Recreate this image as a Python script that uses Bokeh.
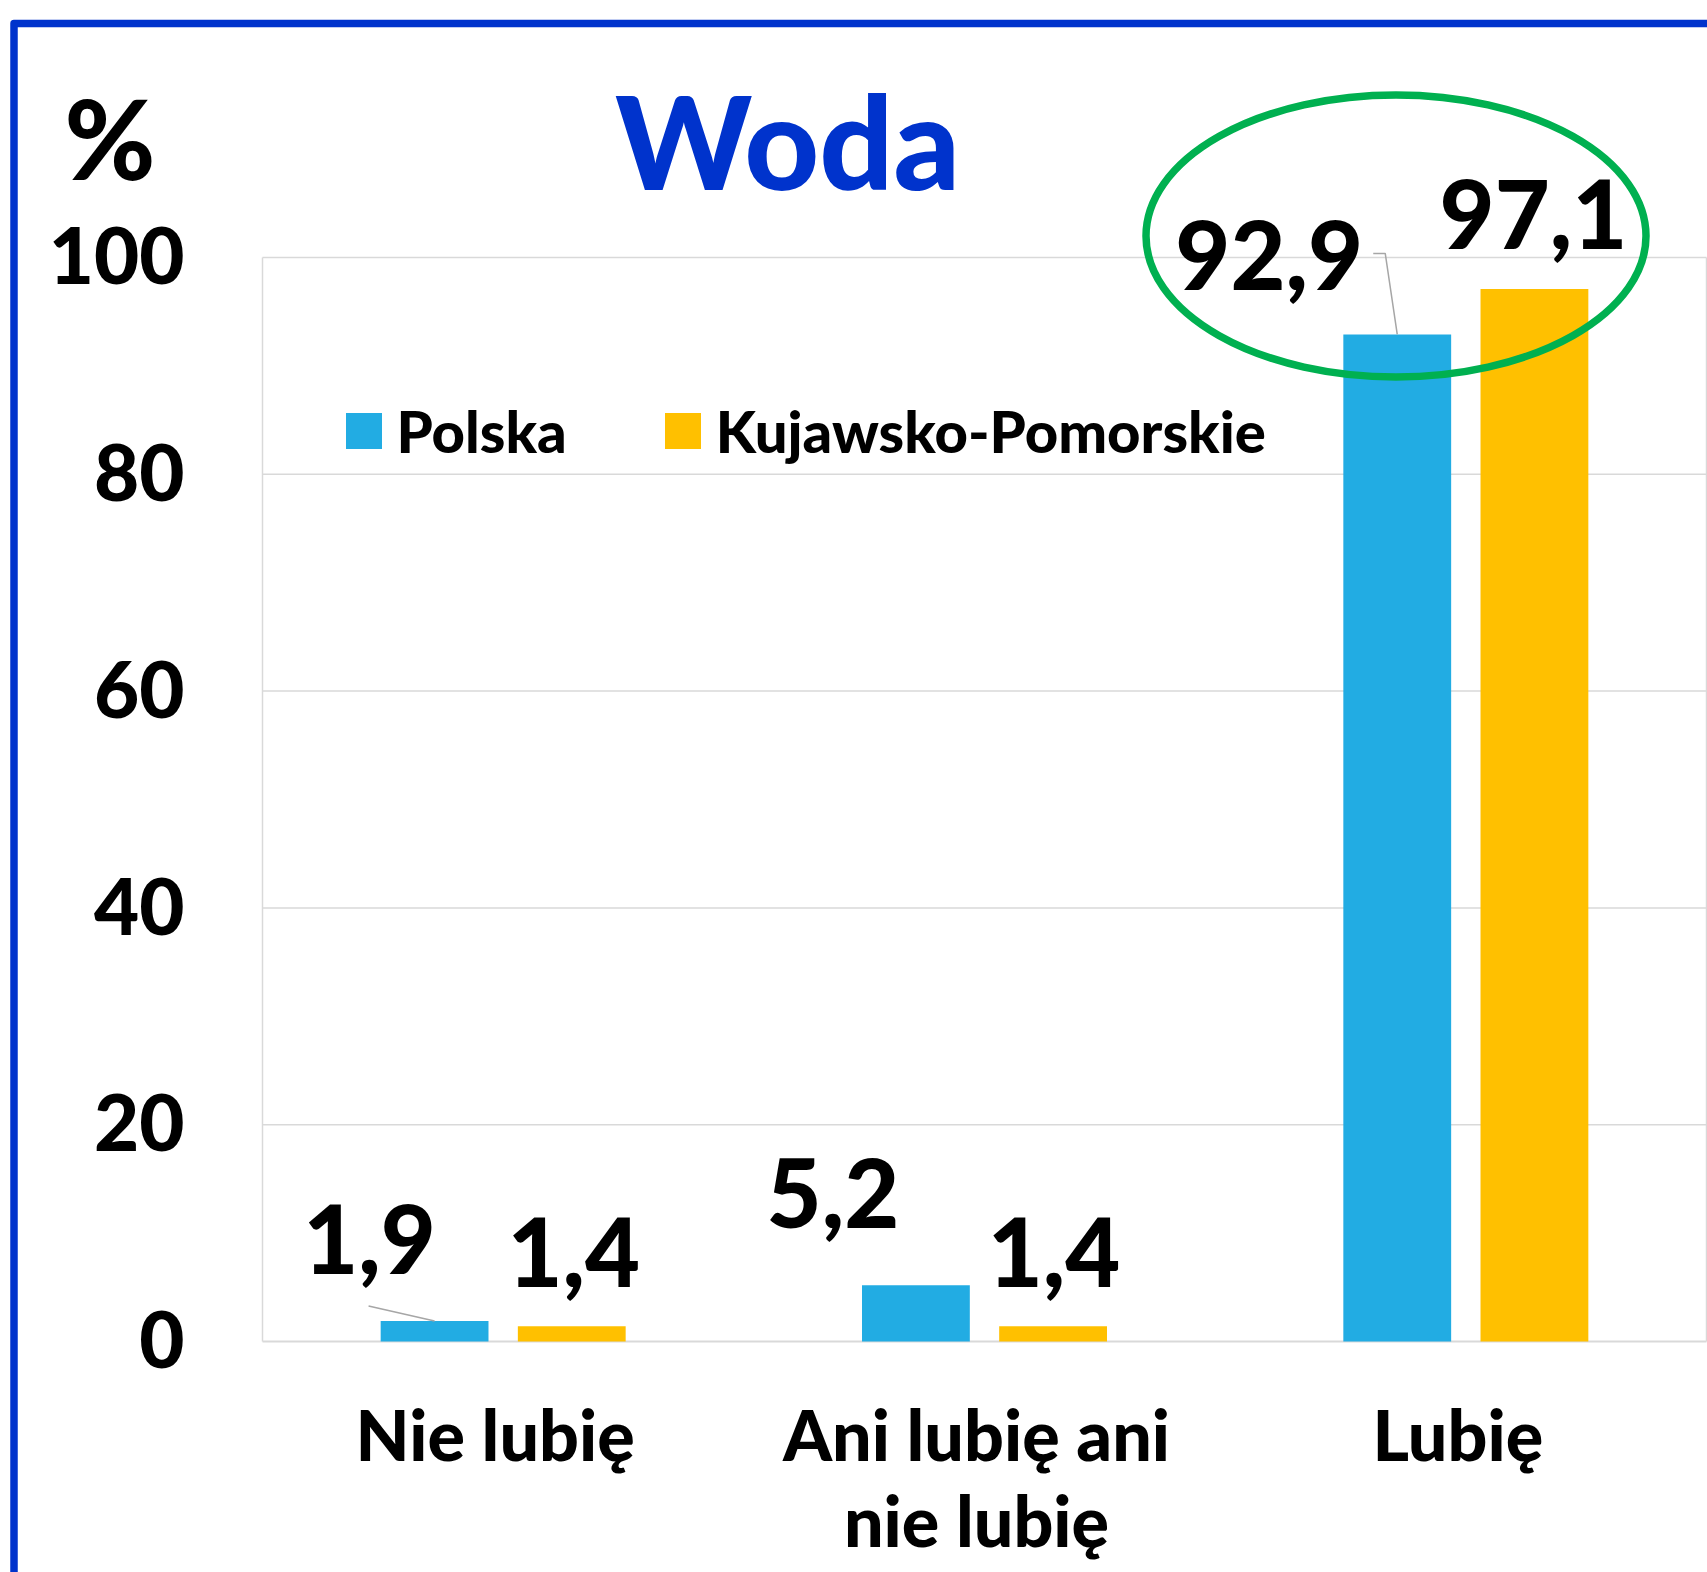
from bokeh.plotting import figure
from bokeh.models import Range1d, Legend, LegendItem
from bokeh.core.properties import value
from bokeh.embed import file_html
from bokeh.resources import INLINE

# ---------------- data ----------------
categories = ["Nie lubię", "Ani lubię ani\nnie lubię", "Lubię"]
series = ["Polska", "Kujawsko-Pomorskie"]
polska = [1.9, 5.2, 92.9]
kujawsko = [1.4, 1.4, 97.1]
polska_text = ["1,9", "5,2", "92,9"]
kujawsko_text = ["1,4", "1,4", "97,1"]
y_ticks = [0, 20, 40, 60, 80, 100]
y_tick_text = ["0", "20", "40", "60", "80", "100"]
title_text = "Woda"
unit_text = "%"

# ---------------- style ----------------
BLUE = "#22ACE3"
GOLD = "#FFC000"
FRAME = "#0033CC"
GREEN = "#00B050"
GRID = "#D9D9D9"
LEADER = "#A6A6A6"
FONT = "Lato Heavy, Lato"
LIFT = 0.37   # em: lift applied to alphabetic anchors so the baseline lands where wanted

W, H = 1707, 1572
AREA_L, AREA_R, AREA_T, AREA_B = 262, 1706, 257, 1341   # plot area in canvas px
n = len(categories)
y_max = y_ticks[-1]
sx = (AREA_R - AREA_L) / n
sy = (AREA_B - AREA_T) / y_max


def px_x(px):
    return (px - AREA_L) / sx


def px_y(px):
    return (AREA_B - px) / sy


def dx(px):
    return px / sx


def dy(px):
    return px / sy


p = figure(width=W, height=H,
           x_range=Range1d(px_x(0), px_x(W)), y_range=Range1d(px_y(H), px_y(0)),
           x_axis_type=None, y_axis_type=None,
           toolbar_location=None, output_backend="svg",
           min_border=0, outline_line_color=None)
p.background_fill_color = "white"
p.border_fill_color = "white"

# outer blue frame
p.line(x=[px_x(13.5), px_x(13.5), px_x(W + 40)], y=[px_y(H + 40), px_y(23), px_y(23)],
       line_color=FRAME, line_width=7.5, line_join="round")

# gridlines & plot-area border
grid_y = [t for t in y_ticks if t > 0]
p.segment(x0=[0] * len(grid_y), x1=[n] * len(grid_y), y0=grid_y, y1=grid_y,
          line_color=GRID, line_width=1.5)
p.segment(x0=[0, n], x1=[0, n], y0=[0, 0], y1=[y_max, y_max], line_color=GRID, line_width=1.5)
p.segment(x0=[0], x1=[n], y0=[0], y1=[0], line_color=GRID, line_width=2.2)

# bars
off = 0.1425
bw = 0.224
x_cat = [i + 0.5 for i in range(n)]
xp = [x - off for x in x_cat]
xk = [x + off for x in x_cat]
r1 = p.vbar(x=xp, top=polska, bottom=0, width=bw, fill_color=BLUE, line_color=None)
r2 = p.vbar(x=xk, top=kujawsko, bottom=0, width=bw, fill_color=GOLD, line_color=None)

# value labels (pixel offsets of each label's baseline from its bar's top centre)
VAL_SIZE = 95
pol_off = [(-65, 47), (-83, 57), (-128, 44)]
kuj_off = [(2, 39), (1, 39), (-1, 40)]
lift = LIFT * VAL_SIZE
lab_x = [x + dx(o[0]) for x, o in zip(xp, pol_off)] + [x + dx(o[0]) for x, o in zip(xk, kuj_off)]
lab_y = ([v + dy(o[1] + lift) for v, o in zip(polska, pol_off)] +
         [v + dy(o[1] + lift) for v, o in zip(kujawsko, kuj_off)])
p.text(x=lab_x, y=lab_y, text=polska_text + kujawsko_text, text_font=value(FONT),
       text_font_style="bold", text_font_size=f"{VAL_SIZE}px", text_align="center",
       text_baseline="alphabetic", text_color="black")

# leader lines (pixel paths relative to bar top)
leaders = {0: [(-66, 15), (0, 0)], 2: [(-24, 81), (-12, 81), (0, 0)]}
lxs, lys = [], []
for i, path in leaders.items():
    lxs.append([xp[i] + dx(a) for a, b in path])
    lys.append([polska[i] + dy(b) for a, b in path])
p.multi_line(xs=lxs, ys=lys, line_color=LEADER, line_width=1.5)

# highlight ellipse
p.ellipse(x=[px_x(1395.5)], y=[px_y(235.5)], width=500, height=282,
          width_units="screen", height_units="screen",
          fill_color=None, line_color=GREEN, line_width=7.5)

# y tick labels (baseline 27px below each gridline)
TICK_SIZE = 78
p.text(x=[px_x(184)] * len(y_ticks), y=[t - dy(27 - LIFT * TICK_SIZE) for t in y_ticks],
       text=y_tick_text, text_font=value(FONT), text_font_style="bold",
       text_font_size=f"{TICK_SIZE}px", text_align="right", text_baseline="alphabetic",
       text_color="black")

# category labels
p.text(x=[c + dx(-8) for c in x_cat], y=[px_y(1391)] * n, text=categories,
       text_font=value(FONT), text_font_style="bold", text_font_size="70px",
       text_align="center", text_baseline="top", text_line_height=1.03, text_color="black")

# title and unit
TITLE_SIZE = 130
UNIT_SIZE = 110
p.text(x=[px_x(787)], y=[px_y(188 - LIFT * TITLE_SIZE)], text=[title_text], text_font=value(FONT),
       text_font_style="bold", text_font_size=f"{TITLE_SIZE}px", text_align="center",
       text_baseline="alphabetic", text_color=FRAME)
p.text(x=[px_x(109.5)], y=[px_y(177 - LIFT * UNIT_SIZE)], text=[unit_text], text_font=value(FONT),
       text_font_style="bold", text_font_size=f"{UNIT_SIZE}px", text_align="center",
       text_baseline="alphabetic", text_color="black")

# legend
legend = Legend(items=[LegendItem(label=series[0], renderers=[r1]),
                       LegendItem(label=series[1], renderers=[r2])],
                orientation="horizontal", location=(340.5, 1107.5),
                glyph_width=45, glyph_height=45, label_standoff=11, spacing=93,
                padding=0, margin=0, border_line_color=None, background_fill_alpha=0,
                label_text_font=FONT, label_text_font_style="bold",
                label_text_font_size="58px", label_text_color="black")
p.add_layout(legend)

open("out.html", "w").write(file_html(p, INLINE))
